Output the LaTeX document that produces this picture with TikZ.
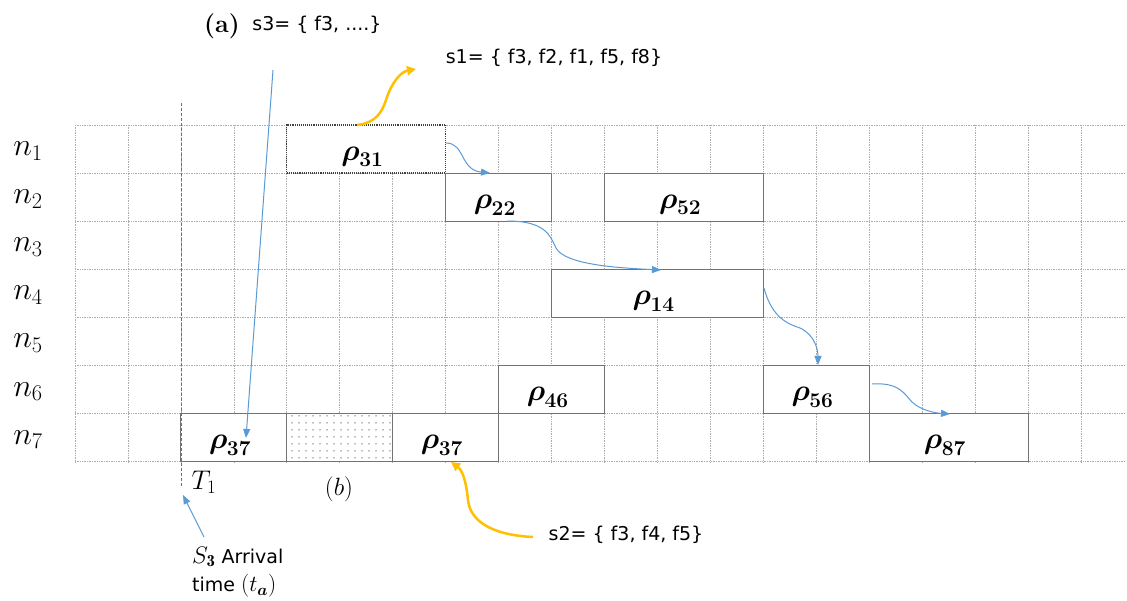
\RequirePackage{fix-cm}
\documentclass[tikz,border=0pt]{standalone}
\usepackage{fontspec}
\usepackage{bm}
\usetikzlibrary{arrows.meta,patterns.meta}
\newfontfamily\sansf{DejaVu Sans}
\definecolor{arrblue}{RGB}{91,155,213}
\definecolor{arryel}{RGB}{255,192,0}
\definecolor{boxgray}{RGB}{115,115,115}
\definecolor{dashcol}{RGB}{95,115,135}
\newcommand{\rlab}[1]{$\bm{\rho}$\kern-0.5pt\raisebox{-6.5pt}{\fontsize{21}{22}\selectfont\bfseries #1}}
\begin{document}
\begin{tikzpicture}[x=1pt,y=-1pt,
  gridline/.style={gray!65, densely dotted, line width=0.7pt},
  taskbox/.style={draw=boxgray, fill=white, line width=1.1pt, inner sep=0pt, outer sep=0pt, minimum height=48.1pt, anchor=north west},
  tasklbl/.style={inner sep=0pt, font=\fontsize{30}{34}\selectfont},
  rowlbl/.style={font=\fontsize{32}{36}\selectfont, inner sep=0pt},
  sanslbl/.style={font=\sansf\fontsize{19}{23}\selectfont, inner sep=0pt},
  bluearr/.style={arrblue, line width=1pt, -{Triangle[length=9pt,width=7pt]}},
  yelarr/.style={arryel, line width=2.5pt, -{Triangle[length=9pt,width=9pt]}},
  tline/.style={dashcol, line width=0.8pt, dash pattern=on 3pt off 2pt}
]
\useasboundingbox (0,0) rectangle (1127,601);
\fill[white] (0,0) rectangle (1127,601);

% grid
\foreach \i in {0,...,19} \draw[gridline] ({75+\i*52.95},125) -- ({75+\i*52.95},461.7);
\foreach \j in {0,...,7} \draw[gridline] (75,{125+\j*48.1}) -- (1125,{125+\j*48.1});

% row labels
\foreach \k in {1,...,7} \node[rowlbl] (n\k) at (28,{125+(\k-0.5)*48.1+2}) {$n_{\k}$};

% task boxes
\node[taskbox, draw=black!75, densely dotted, line width=1.2pt, minimum width=158.85pt] (p31) at (286.8,125) {};
\node[taskbox, minimum width=105.9pt] (p22) at (445.65,173.1) {};
\node[taskbox, minimum width=158.85pt] (p52) at (604.5,173.1) {};
\node[taskbox, minimum width=211.8pt] (p14) at (551.55,269.3) {};
\node[taskbox, minimum width=105.9pt] (p46) at (498.6,365.5) {};
\node[taskbox, minimum width=105.9pt] (p56) at (763.35,365.5) {};
\node[taskbox, minimum width=105.9pt] (p37a) at (180.9,413.6) {};
\node[taskbox, minimum width=105.9pt, line width=0.8pt, postaction={pattern={Dots[distance=6.5pt,radius=0.8pt]}, pattern color=black!55}] (shade) at (286.8,413.6) {};
\node[taskbox, minimum width=105.9pt] (p37b) at (392.7,413.6) {};
\node[taskbox, minimum width=158.85pt] (p87) at (869.25,413.6) {};

\foreach \b/\t in {p31/31,p22/22,p52/52,p14/14,p46/46,p56/56,p37a/37,p37b/37,p87/87}
  \node[tasklbl] (l\b) at ([xshift=-4pt,yshift=-8pt]\b.center) {\rlab{\t}};

% arrival line
\coordinate (t1top) at (180.9,103);
\coordinate (t1bot) at (180.9,487);
\draw[tline] (t1top) -- (t1bot);

% texts
\node[font=\bfseries\fontsize{25}{29}\selectfont, inner sep=0pt] (alab) at (222,26) {(a)};
\node[sanslbl] (s3lab) at (317,25) {s3= \{ f3, ....\}};
\node[sanslbl] (s1lab) at (554,58) {s1= \{ f3, f2, f1, f5, f8\}};
\node[sanslbl] (s2lab) at (626,535) {s2= \{ f3, f4, f5\}};
\node[font=\fontsize{27}{30}\selectfont, inner sep=0pt] (t1lab) at (204,482) {$T_1$};
\node[font=\fontsize{25}{28}\selectfont, inner sep=0pt] (blab) at (339,489) {$(b)$};
\node[sanslbl, anchor=west] (arrlab1) at (192,557) {{\fontsize{24}{24}\selectfont$S_{\mathbf{3}}$} Arrival};
\node[sanslbl, anchor=west] (arrlab2) at (192,586) {time {\fontsize{23}{23}\selectfont$(t_{\bm{a}})$}};

% connectors
\coordinate (s3start) at (273,70);
\coordinate (s3end) at (246,438);
\draw[bluearr] (s3start) -- (s3end);

\coordinate (y1s) at (357,125);
\coordinate (y1e) at (416,69);
\draw[yelarr] (y1s) .. controls (376,123) and (382,112) .. (386,100) .. controls (391,84) and (400,72) .. (y1e);

\coordinate (y2s) at (533,537);
\coordinate (y2e) at (451,462);
\draw[yelarr] (y2s) .. controls (490,535) and (470,520) .. (468,500) .. controls (466,480) and (462,470) .. (y2e);

\coordinate (a1s) at (446,143);
\coordinate (a1e) at (490,173);
\draw[bluearr] (a1s) .. controls (465,143) and (460,170) .. (a1e);

\coordinate (a2s) at (507,221);
\coordinate (a2e) at (661,270);
\draw[bluearr] (a2s) .. controls (545,221) and (550,235) .. (556,248) .. controls (565,265) and (620,268) .. (a2e);

\coordinate (a3s) at (764,288);
\coordinate (a3e) at (818,365);
\draw[bluearr] (a3s) .. controls (772,318) and (788,324) .. (800,328) .. controls (815,335) and (818,350) .. (a3e);

\coordinate (a4s) at (872,384);
\coordinate (a4e) at (950,414);
\draw[bluearr] (a4s) .. controls (900,382) and (905,395) .. (912,402) .. controls (920,410) and (935,413) .. (a4e);

\coordinate (a5s) at (204,537);
\coordinate (a5e) at (183,495);
\draw[bluearr] (a5s) -- (a5e);
\end{tikzpicture}
\end{document}
